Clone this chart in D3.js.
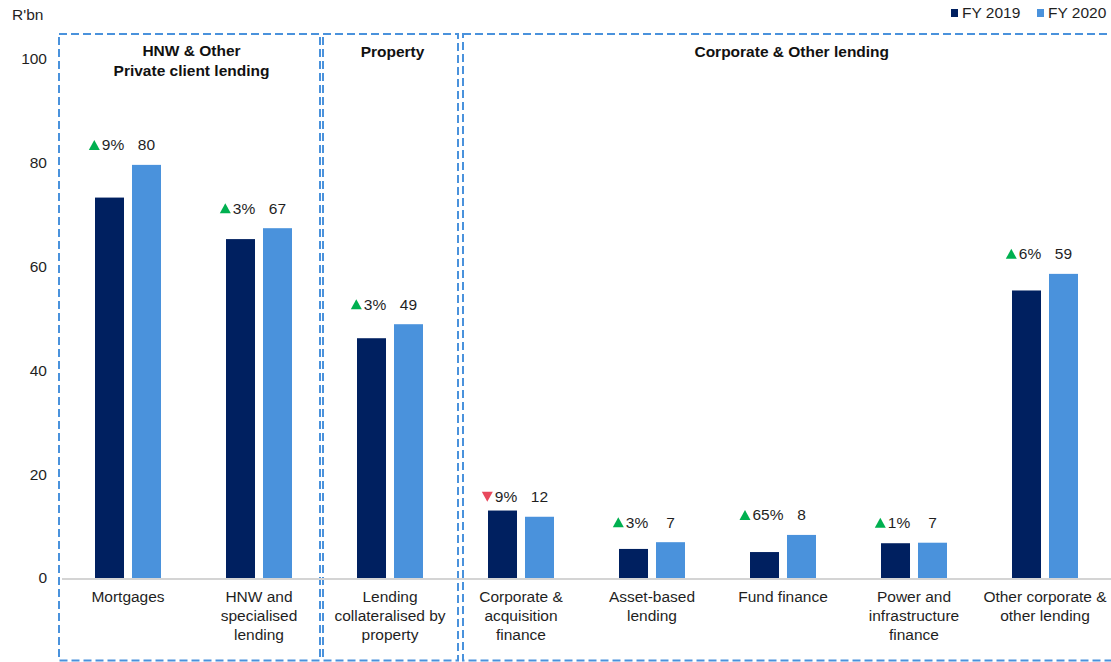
<!DOCTYPE html>
<html>
<head>
<meta charset="utf-8">
<script src="https://cdn.jsdelivr.net/npm/d3@7"></script>
<style>
  body { margin: 0; background: #fff; }
  svg { display: block; font-family: "Liberation Sans", Arial, sans-serif; }
</style>
</head>
<body>
<div id="chart"></div>
<script>
// data
const categories = [
  "Mortgages", "HNW and specialised lending", "Lending collateralised by property",
  "Corporate & acquisition finance", "Asset-based lending", "Fund finance",
  "Power and infrastructure finance", "Other corporate & other lending"
];
const categoryLines = [
  ["Mortgages"], ["HNW and", "specialised", "lending"], ["Lending", "collateralised by", "property"],
  ["Corporate &", "acquisition", "finance"], ["Asset-based", "lending"], ["Fund finance"],
  ["Power and", "infrastructure", "finance"], ["Other corporate &", "other lending"]
];
const series = ["FY 2019", "FY 2020"];
const fy2019 = [73.3, 65.3, 46.2, 13.0, 5.6, 5.0, 6.7, 55.4];
const fy2020 = [79.6, 67.4, 48.9, 11.8, 6.9, 8.3, 6.8, 58.6];
const valueLabels = ["80", "67", "49", "12", "7", "8", "7", "59"];
const changeLabels = ["9%", "3%", "3%", "9%", "3%", "65%", "1%", "6%"];
const changeUp = [true, true, true, false, true, true, true, true];
const yTicks = [0, 20, 40, 60, 80, 100];
const groups = [
  { title: ["HNW & Other", "Private client lending"], first: 0, last: 1 },
  { title: ["Property"], first: 2, last: 2 },
  { title: ["Corporate & Other lending"], first: 3, last: 7 }
];

const W = 1111, H = 662;
const colors = { "FY 2019": "#002060", "FY 2020": "#4a92dc" };
const boxColor = "#4a92dc";
const textColor = "#1f1f1f";
const fs = 15.5;

const svg = d3.select("#chart").append("svg").attr("width", W).attr("height", H);

const x0 = d3.scaleBand().domain(categories).range([62.5, 1110.5]).padding(0);
const x1 = d3.scaleBand().domain(series).range([32.5, 98.5]).paddingInner(0.216);
const y = d3.scaleLinear().domain([0, 100]).range([578, 59]);

// y axis labels
svg.append("text").attr("x", 12).attr("y", 15).attr("dy", "0.35em")
  .attr("font-size", fs).attr("fill", textColor).text("R'bn");

const yAxis = svg.append("g").attr("transform", "translate(47,0)")
  .call(d3.axisLeft(y).tickValues(yTicks).tickSize(0).tickPadding(0));
yAxis.select(".domain").remove();
yAxis.selectAll("text").attr("font-size", fs).attr("fill", textColor)
  .attr("font-family", "Liberation Sans, Arial, sans-serif");

// dashed group boxes
const boxOffsets = [[-3.5, -4.5], [-1.5, 2.5], [7.5, 6]];
groups.forEach((g, i) => {
  const left = x0(categories[g.first]) + boxOffsets[i][0];
  const right = x0(categories[g.last]) + x0.bandwidth() + boxOffsets[i][1];
  svg.append("rect")
    .attr("x", left).attr("y", 34)
    .attr("width", right - left).attr("height", 626.5)
    .attr("fill", "none").attr("stroke", boxColor)
    .attr("stroke-width", 2).attr("stroke-dasharray", "8,4");
  const cx = (left + right) / 2 + 2;
  g.title.forEach((line, j) => {
    svg.append("text").attr("x", cx).attr("y", (g.title.length > 1 ? 51 : 52) + j * 20)
      .attr("dy", "0.35em").attr("text-anchor", "middle")
      .attr("font-size", fs).attr("font-weight", "bold").attr("fill", "#111")
      .text(line);
  });
});

// baseline
svg.append("line").attr("x1", 62).attr("x2", W).attr("y1", y(0) + 1).attr("y2", y(0) + 1)
  .attr("stroke", "#d4d4d4").attr("stroke-width", 2);

// bars
const rows = categories.map((c, i) => ({
  cat: c, values: [{ s: "FY 2019", v: fy2019[i] }, { s: "FY 2020", v: fy2020[i] }], i
}));

const cat = svg.selectAll("g.cat").data(rows).join("g")
  .attr("class", "cat")
  .attr("transform", d => `translate(${x0(d.cat)},0)`);

cat.selectAll("rect").data(d => d.values).join("rect")
  .attr("x", d => x1(d.s))
  .attr("y", d => y(d.v))
  .attr("width", x1.bandwidth())
  .attr("height", d => y(0) - y(d.v))
  .attr("fill", d => colors[d.s]);

// value labels over FY 2020 bars
cat.append("text")
  .attr("x", x1("FY 2020") + x1.bandwidth() / 2)
  .attr("y", d => y(fy2020[d.i]) - 20)
  .attr("dy", "0.35em").attr("text-anchor", "middle")
  .attr("font-size", fs).attr("fill", textColor)
  .text(d => valueLabels[d.i]);

// change labels over FY 2019 bars
cat.each(function (d) {
  const g = d3.select(this).append("g");
  const t = g.append("text").attr("x", 13).attr("y", 0).attr("dy", "0.35em")
    .attr("font-size", fs).attr("fill", textColor).text(changeLabels[d.i]);
  const up = changeUp[d.i];
  g.append("path")
    .attr("d", up ? "M0,5L11,5L5.5,-5Z" : "M0,-5L11,-5L5.5,5Z")
    .attr("fill", up ? "#00b050" : "#e8485c");
  const w = 13 + t.node().getComputedTextLength();
  const cx = x1("FY 2019") + x1.bandwidth() / 2 - 3;
  g.attr("transform", `translate(${cx - w / 2},${y(fy2020[d.i]) - 20})`);
});

// category labels
cat.each(function (d) {
  const t = d3.select(this).append("text")
    .attr("text-anchor", "middle").attr("font-size", fs).attr("fill", textColor);
  categoryLines[d.i].forEach((line, j) => {
    t.append("tspan").attr("x", x0.bandwidth() / 2)
      .attr("y", 597 + j * 19).attr("dy", "0.35em").text(line);
  });
});

// legend
const legendX = [951, 1037];
series.forEach((s, i) => {
  svg.append("rect").attr("x", legendX[i]).attr("y", 9).attr("width", 7).attr("height", 8)
    .attr("fill", colors[s]);
  svg.append("text").attr("x", legendX[i] + 11).attr("y", 13).attr("dy", "0.35em")
    .attr("font-size", fs).attr("fill", textColor).text(s);
});
</script>
</body>
</html>
